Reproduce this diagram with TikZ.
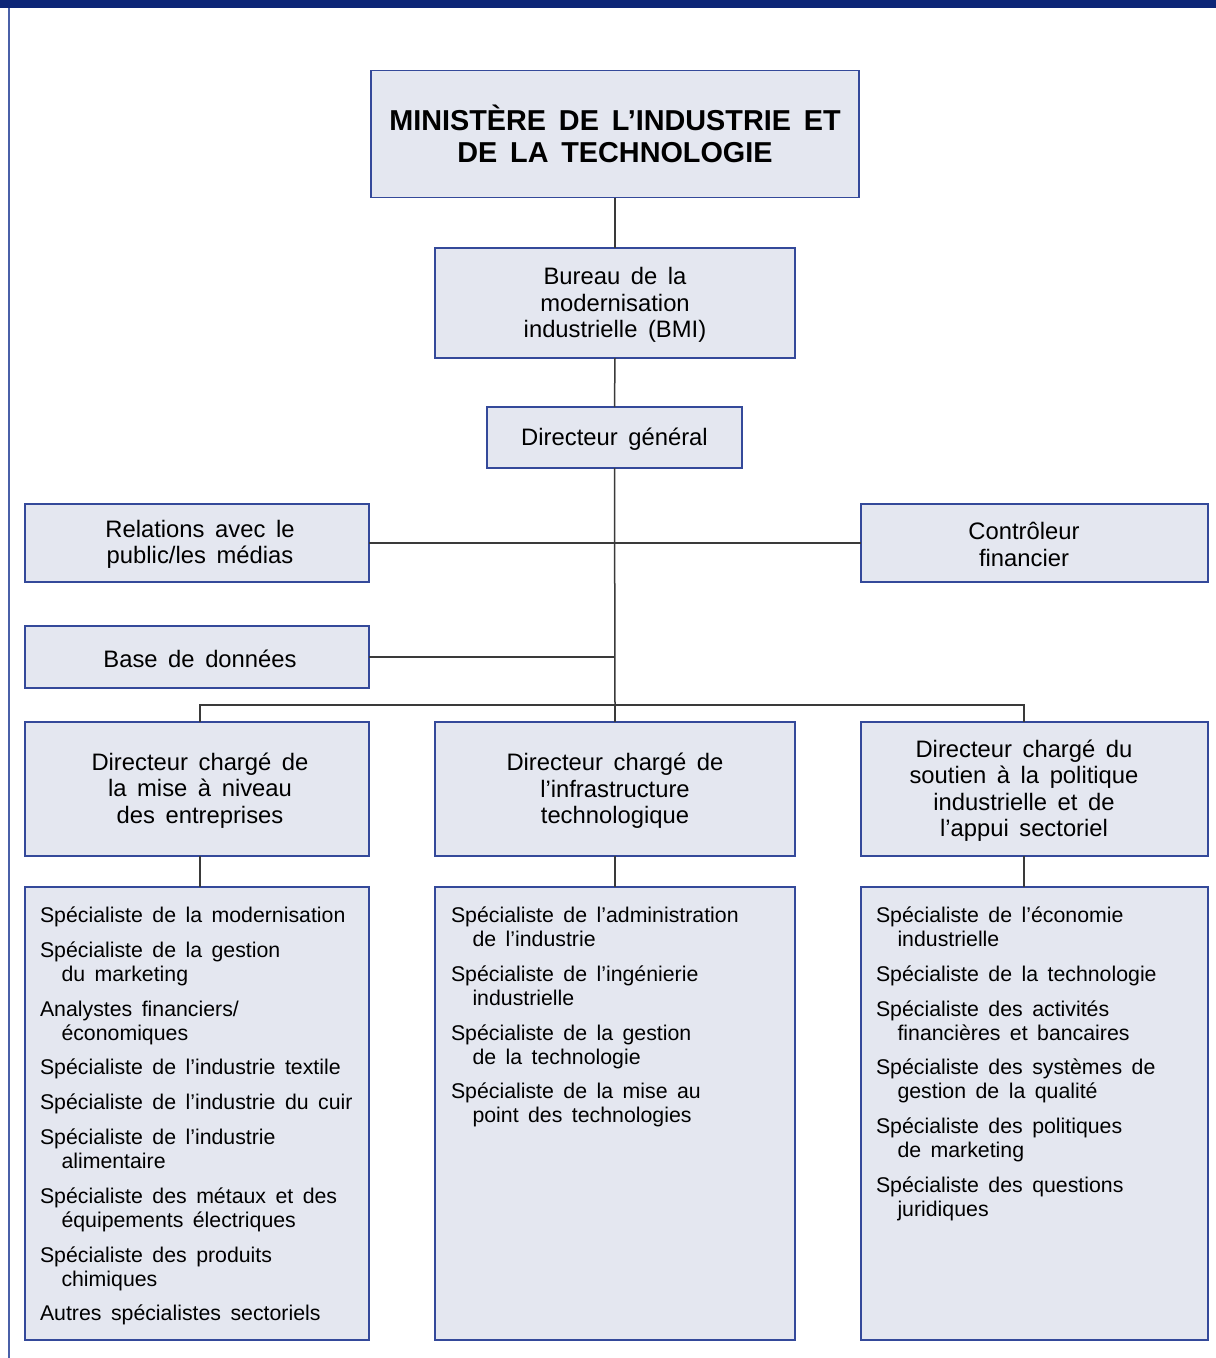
\documentclass[tikz,border=0pt]{standalone}
\usepackage{fontspec}
\setmainfont{Liberation Sans}[WordSpace=1.6]
\definecolor{boxfill}{HTML}{E4E7F0}
\definecolor{boxline}{HTML}{34499A}
\definecolor{barblue}{HTML}{0C2677}
\definecolor{edgeblue}{HTML}{4A60A8}
\definecolor{wire}{HTML}{3A3A3A}
\tikzset{
  boxtext/.style={inner sep=0pt, align=center, font={\fontsize{23.8}{26.5}\selectfont}},
  orgbox/.style={draw=boxline, fill=boxfill, line width=1.3pt, inner sep=0pt,
    outer sep=0pt, boxtext},
  titlebox/.style={orgbox, font={\fontsize{28.8}{32}\selectfont\bfseries}},
  % box captions, placed on the column of the connector that feeds the box
  midtext/.style={label={[boxtext, yshift=-2pt]center:{#1}}},
  lefttext/.style={label={[boxtext, xshift=3pt, yshift=-1.5pt]center:{#1}}},
  righttext/.style={label={[boxtext, xshift=-10.5pt, yshift=-1.5pt]center:{#1}}},
  listtext/.style={inner sep=0pt, outer sep=0pt, align=left, anchor=north west,
    font={\fontsize{21.3}{24}\selectfont}},
  wireline/.style={draw=wire, line width=1.5pt},
}
\newcommand{\ind}{\hspace*{21.5pt}}
\newcommand{\gap}{\\[10.8pt]}
\newcommand{\firstline}{\rule{0pt}{16pt}}
\begin{document}
\begin{tikzpicture}[x=1pt,y=-1pt]
\useasboundingbox (0,0) rectangle (1216,1358);
% page frame: top band and left rule
\fill[barblue] (0,0) rectangle (1216,8);
\draw[edgeblue, line width=1.5pt] (9,8) -- (9,1358);

% top of the hierarchy
\node[titlebox, minimum width=488, minimum height=127] (min) at (615,134)
  {MINISTÈRE DE L’INDUSTRIE ET\\DE LA TECHNOLOGIE};
\node[orgbox, minimum width=360, minimum height=110,
  midtext={Bureau de la\\modernisation\\industrielle (BMI)}] (bmi) at (615,303) {};
\node[orgbox, minimum width=255, minimum height=61,
  midtext={Directeur général}] (dg) at (614.5,437.5) {};

% staff units
\node[orgbox, minimum width=344, minimum height=78,
  lefttext={Relations avec le\\public/les médias}] (rel) at (197,543) {};
\node[orgbox, minimum width=347, minimum height=78,
  righttext={Contrôleur\\financier}] (ctrl) at (1034.5,543) {};
\node[orgbox, minimum width=344, minimum height=62,
  lefttext={Base de données}] (base) at (197,657) {};

% directorates
\node[orgbox, minimum width=344, minimum height=134,
  lefttext={Directeur chargé de\\la mise à niveau\\des entreprises}] (d1) at (197,789) {};
\node[orgbox, minimum width=360, minimum height=134,
  midtext={Directeur chargé de\\l’infrastructure\\technologique}] (d2) at (615,789) {};
\node[orgbox, minimum width=347, minimum height=134,
  righttext={Directeur chargé du\\soutien à la politique\\industrielle et de\\l’appui sectoriel}] (d3) at (1034.5,789) {};

% specialist panels
\node[orgbox, minimum width=344, minimum height=453] (l1) at (197,1113.5) {};
\node[orgbox, minimum width=360, minimum height=453] (l2) at (615,1113.5) {};
\node[orgbox, minimum width=347, minimum height=453] (l3) at (1034.5,1113.5) {};

\node[listtext] (t1) at (40,906.5) {\firstline Spécialiste de la modernisation\gap
  Spécialiste de la gestion\\\ind du marketing\gap
  Analystes financiers/\\\ind économiques\gap
  Spécialiste de l’industrie textile\gap
  Spécialiste de l’industrie du cuir\gap
  Spécialiste de l’industrie\\\ind alimentaire\gap
  Spécialiste des métaux et des\\\ind équipements électriques\gap
  Spécialiste des produits\\\ind chimiques\gap
  Autres spécialistes sectoriels};
\node[listtext] (t2) at (451,906.5) {\firstline Spécialiste de l’administration\\\ind de l’industrie\gap
  Spécialiste de l’ingénierie\\\ind industrielle\gap
  Spécialiste de la gestion\\\ind de la technologie\gap
  Spécialiste de la mise au\\\ind point des technologies};
\node[listtext] (t3) at (876,906.5) {\firstline Spécialiste de l’économie\\\ind industrielle\gap
  Spécialiste de la technologie\gap
  Spécialiste des activités\\\ind financières et bancaires\gap
  Spécialiste des systèmes de\\\ind gestion de la qualité\gap
  Spécialiste des politiques\\\ind de marketing\gap
  Spécialiste des questions\\\ind juridiques};

% connectors
\coordinate (bus) at (615,705);
\coordinate (jl) at (200,705);
\coordinate (jr) at (1024,705);
\draw[wireline] (min.south) -- (bmi.north);
\draw[wireline] (bmi.south) -- (dg.north);
\draw[wireline] (dg.south) -- (bus);
\draw[wireline] (rel.east) -- (ctrl.west);
\draw[wireline] (base.east) -- (base.east -| bus);
\draw[wireline] (jl |- d1.north) -- (jl) -- (jr) -- (jr |- d3.north);
\draw[wireline] (bus) -- (d2.north);
\draw[wireline] (jl |- d1.south) -- (jl |- l1.north);
\draw[wireline] (d2.south) -- (l2.north);
\draw[wireline] (jr |- d3.south) -- (jr |- l3.north);
\end{tikzpicture}
\end{document}
